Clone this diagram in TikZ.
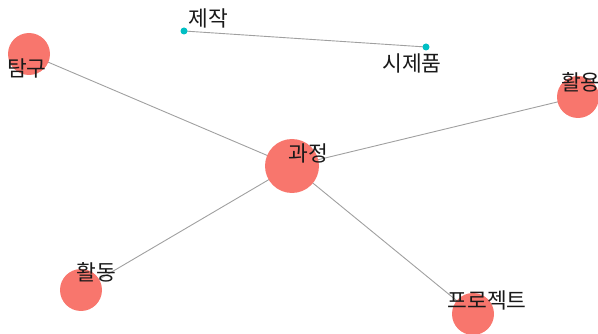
\documentclass[tikz,border=0pt]{standalone}
\usepackage{fontspec}
\newfontfamily\kr{Noto Sans CJK KR}
\definecolor{nodered}{HTML}{F8766D}
\definecolor{nodeteal}{HTML}{00BFC4}
\definecolor{edgegray}{HTML}{A0A0A0}
\begin{document}
\begin{tikzpicture}[x=1pt,y=-1pt,
  big/.style={circle,fill=nodered,inner sep=0pt,minimum size=#1},
  small/.style={circle,fill=nodeteal,inner sep=0pt,minimum size=7pt},
  lab/.style={font=\kr\fontsize{21.5}{21.5}\selectfont,text=black!90,inner sep=0pt},
  edge/.style={draw=edgegray,line width=0.9pt}]
\useasboundingbox (0,0) rectangle (598,334);
\coordinate (c) at (292,166);
\coordinate (t) at (29,54);
\coordinate (h) at (578,97);
\coordinate (d) at (81,290);
\coordinate (p) at (473,314);
\coordinate (j) at (184,31);
\coordinate (s) at (426,47);
\draw[edge] (c) -- (t);
\draw[edge] (c) -- (h);
\draw[edge] (c) -- (d);
\draw[edge] (c) -- (p);
\draw[edge] (j) -- (s);
\node[big=54pt] (cn) at (c) {};
\node[big=42pt] (tn) at (t) {};
\node[big=42pt] (hn) at (h) {};
\node[big=42pt] (dn) at (d) {};
\node[big=42pt] (pn) at (p) {};
\node[small] (jn) at (j) {};
\node[small] (sn) at (s) {};
\node[lab] (cl) at (308,153) {과정};
\node[lab] (tl) at (27,68) {탐구};
\node[lab,anchor=west] (hl) at (561,82) {활용};
\node[lab] (dl) at (96,272) {활동};
\node[lab] (pl) at (487,300) {프로젝트};
\node[lab] (jl) at (208,18) {제작};
\node[lab] (sl) at (412,63) {시제품};
\end{tikzpicture}
\end{document}
